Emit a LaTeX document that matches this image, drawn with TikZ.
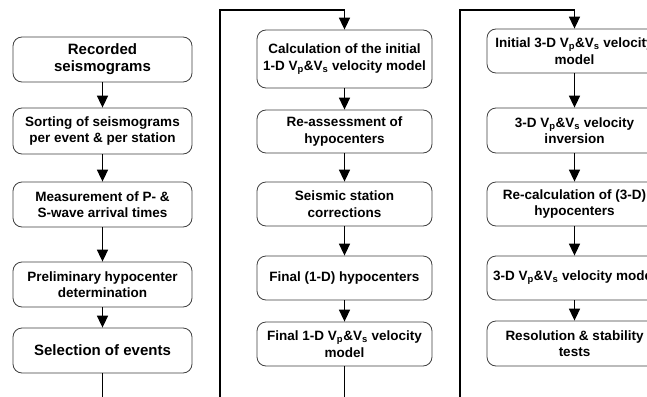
\documentclass[tikz,border=0pt]{standalone}
\usepackage{fontspec}
\setmainfont{Liberation Sans}
\usetikzlibrary{arrows.meta}
\newcommand\vpvs{V\textsubscript{p}\&V\textsubscript{s}}
\begin{document}
\begin{tikzpicture}[x=1pt,y=-1pt,
  box/.style={draw=black!75, line width=0.8pt, rounded corners=9pt, align=center, inner sep=0pt, font=\bfseries\fontsize{13.5}{16.5}\selectfont},
  big/.style={font=\bfseries\fontsize{15}{17}\selectfont},
  flow/.style={line width=1.6pt, -{Triangle[width=11pt,length=12pt]}},
  plain/.style={line width=1.6pt}]
\useasboundingbox (0,0) rectangle (647,396);
\fill[white] (0,0) rectangle (647,396);
\clip (0,0) rectangle (647,396);
% column 1
\node[box,big,minimum width=179pt,minimum height=45pt] (a1) at (102.5,59.5) {Recorded\\seismograms};
\node[box,minimum width=179pt,minimum height=46pt] (a2) at (102.5,131) {Sorting of seismograms\\per event \& per station};
\node[box,minimum width=179pt,minimum height=45pt] (a3) at (102.5,204.5) {Measurement of P- \&\\S-wave arrival times};
\node[box,minimum width=179pt,minimum height=45pt] (a4) at (102.5,284.5) {Preliminary hypocenter\\determination};
\node[box,big,minimum width=179pt,minimum height=45pt] (a5) at (102.5,350.5) {Selection of events};
% column 2
\node[box,minimum width=175pt,minimum height=58pt] (b1) at (344.5,59) {Calculation of the initial\\1-D \vpvs\ velocity model};
\node[box,minimum width=175pt,minimum height=43pt] (b2) at (344.5,131.5) {Re-assessment of\\hypocenters};
\node[box,minimum width=175pt,minimum height=44pt] (b3) at (344.5,204) {Seismic station\\corrections};
\node[box,minimum width=175pt,minimum height=44pt] (b4) at (344.5,278) {Final (1-D) hypocenters};
\node[box,minimum width=175pt,minimum height=44pt] (b5) at (344.5,344) {Final 1-D \vpvs\ velocity\\model};
% column 3
\node[box,minimum width=175pt,minimum height=44pt] (c1) at (574.5,51) {Initial 3-D \vpvs\ velocity\\model};
\node[box,minimum width=175pt,minimum height=45pt] (c2) at (574.5,130.5) {3-D \vpvs\ velocity\\inversion};
\node[box,minimum width=175pt,minimum height=44pt] (c3) at (574.5,204) {Re-calculation of (3-D)\\hypocenters};
\node[box,minimum width=175pt,minimum height=44pt] (c4) at (574.5,278) {3-D \vpvs\ velocity model};
\node[box,minimum width=175pt,minimum height=45pt] (c5) at (574.5,343.5) {Resolution \& stability\\tests};
% connectors column 1
\draw[flow] (a1) -- (a2);
\draw[flow] (a2) -- (a3);
\draw[flow] (a3) -- (a4);
\draw[flow] (a4) -- (a5);
\coordinate (e1) at (102.5,397);
\draw[plain] (a5) -- (e1);
% column 2
\coordinate (l2) at (220,397);
\coordinate (t2) at (344.5,10);
\draw[flow] (l2) |- (t2) -- (b1);
\draw[flow] (b1) -- (b2);
\draw[flow] (b2) -- (b3);
\draw[flow] (b3) -- (b4);
\draw[flow] (b4) -- (b5);
\coordinate (e2) at (344.5,397);
\draw[plain] (b5) -- (e2);
% column 3
\coordinate (l3) at (460,397);
\coordinate (t3) at (574.5,10);
\draw[flow] (l3) |- (t3) -- (c1);
\draw[flow] (c1) -- (c2);
\draw[flow] (c2) -- (c3);
\draw[flow] (c3) -- (c4);
\draw[flow] (c4) -- (c5);
\end{tikzpicture}
\end{document}
